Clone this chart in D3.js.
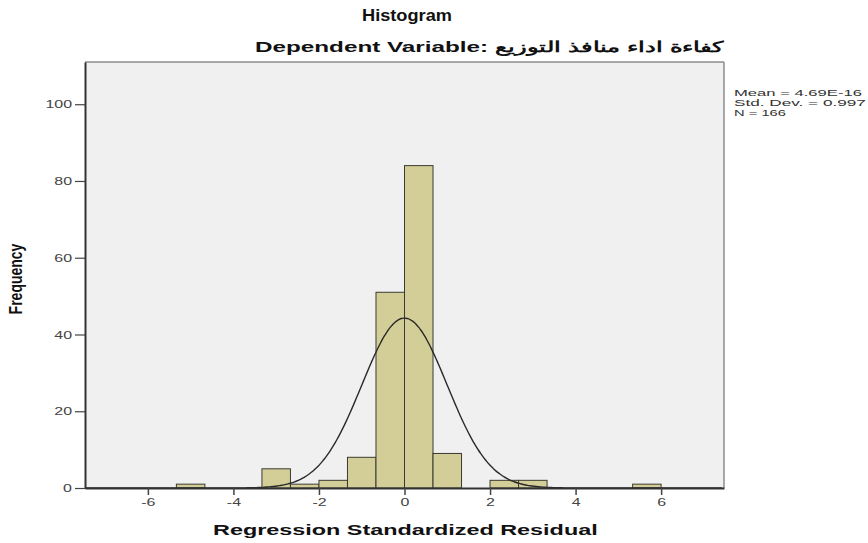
<!DOCTYPE html>
<html>
<head>
<meta charset="utf-8">
<script src="https://cdn.jsdelivr.net/npm/d3@7"></script>
<style>
  html, body { margin: 0; padding: 0; background: #ffffff; }
  svg { display: block; }
  text { font-family: "Liberation Sans", Arial, sans-serif; }
</style>
</head>
<body>
<svg id="chart" width="868" height="543"></svg>
<script>
// ---- Data ----
const binLower = [-16/3, -10/3, -8/3, -2, -4/3, -2/3, 0, 2/3, 2, 8/3, 16/3];
const binWidth = 2/3;
const counts   = [1, 5, 1, 2, 8, 51, 84, 9, 2, 2, 1];
const xTicks   = [-6, -4, -2, 0, 2, 4, 6];
const yTicks   = [0, 20, 40, 60, 80, 100];
const statMean = 4.69e-16;
const statSD   = 0.997;
const statN    = 166;
const legendLines = ["Mean = 4.69E-16", "Std. Dev. = 0.997", "N = 166"];
const titleText = "Histogram";
const subtitleText = "Dependent Variable: كفاءة اداء منافذ التوزيع";
const xLabel = "Regression Standardized Residual";
const yLabel = "Frequency";

// ---- Layout ----
const plot = { left: 85, right: 724, top: 62, bottom: 488 };
const SX = 1.45; // horizontal stretch of the reference's text

const svg = d3.select("#chart");
const x = d3.scaleLinear().domain([-7.47, 7.47]).range([plot.left, plot.right]);
const y = d3.scaleLinear().domain([0, 111]).range([plot.bottom, plot.top]);

function fitText(sel, x0, x1, yb) {
  const w = sel.node().getComputedTextLength();
  const sx = (x1 - x0) / w;
  sel.attr("x", 0).attr("y", 0)
     .attr("transform", `translate(${x0},${yb}) scale(${sx},1)`);
}
function stretch(sel, sx) {
  sel.each(function () {
    const t = d3.select(this);
    const tx = +t.attr("x") || 0, ty = +t.attr("y") || 0;
    t.attr("x", 0).attr("y", 0).attr("transform", `translate(${tx},${ty}) scale(${sx},1)`);
  });
}

// plot background
svg.append("rect")
  .attr("x", plot.left).attr("y", plot.top)
  .attr("width", plot.right - plot.left).attr("height", plot.bottom - plot.top)
  .attr("fill", "#f0f0f0");

// bars
svg.append("g").selectAll("rect")
  .data(binLower.map((b, i) => ({ lo: b, hi: b + binWidth, c: counts[i] })))
  .join("rect")
  .attr("x", d => x(d.lo))
  .attr("y", d => y(d.c))
  .attr("width", d => x(d.hi) - x(d.lo))
  .attr("height", d => y(0) - y(d.c))
  .attr("fill", "#d3ce97")
  .attr("stroke", "#3b3a30")
  .attr("stroke-width", 1);

// normal curve from the reported stats
const peakScale = statN * binWidth / (statSD * Math.sqrt(2 * Math.PI));
const curvePts = d3.range(-7.47, 7.4701, 0.05).map(v => [v, peakScale * Math.exp(-0.5 * Math.pow((v - statMean) / statSD, 2))]);
svg.append("path")
  .datum(curvePts)
  .attr("d", d3.line().x(d => x(d[0])).y(d => y(d[1])).curve(d3.curveBasis))
  .attr("fill", "none")
  .attr("stroke", "#2a2a2a")
  .attr("stroke-width", 1.4);

// frame: top & right grey
svg.append("line").attr("x1", plot.left).attr("x2", plot.right).attr("y1", plot.top).attr("y2", plot.top)
  .attr("stroke", "#8c8c8c").attr("stroke-width", 1.5);
svg.append("line").attr("x1", plot.right).attr("x2", plot.right).attr("y1", plot.top).attr("y2", plot.bottom)
  .attr("stroke", "#8c8c8c").attr("stroke-width", 1.5);

// axes
const fmt = d => String(d);
const yAxis = svg.append("g")
  .attr("transform", `translate(${plot.left},0)`)
  .call(d3.axisLeft(y).tickValues(yTicks).tickFormat(fmt).tickSize(10).tickSizeOuter(0).tickPadding(3));
yAxis.select(".domain").attr("stroke", "#333").attr("stroke-width", 2);
yAxis.selectAll(".tick line").attr("stroke", "#444").attr("stroke-width", 1.2);
yAxis.selectAll(".tick text").attr("font-size", 11).attr("fill", "#444")
  .attr("font-family", "Liberation Sans, Arial, sans-serif");
stretch(yAxis.selectAll(".tick text"), SX);

const xAxis = svg.append("g")
  .attr("transform", `translate(0,${plot.bottom})`)
  .call(d3.axisBottom(x).tickValues(xTicks).tickFormat(fmt).tickSize(7).tickSizeOuter(0).tickPadding(3));
xAxis.select(".domain").attr("stroke", "#333").attr("stroke-width", 2);
xAxis.selectAll(".tick line").attr("stroke", "#444").attr("stroke-width", 1.5);
xAxis.selectAll(".tick text").attr("font-size", 11).attr("fill", "#444")
  .attr("font-family", "Liberation Sans, Arial, sans-serif");
stretch(xAxis.selectAll(".tick text"), SX);

// titles
const t1 = svg.append("text").text(titleText)
  .attr("font-size", 16).attr("font-weight", "bold").attr("fill", "#111");
fitText(t1, 362, 452, 21);

const t2 = svg.append("text").text(subtitleText)
  .attr("font-size", 15).attr("font-weight", "bold").attr("fill", "#111");
fitText(t2, 255, 727, 52);

const xl = svg.append("text").text(xLabel)
  .attr("font-size", 15).attr("font-weight", "bold").attr("fill", "#111");
fitText(xl, 213, 598, 535);

svg.append("text").text(yLabel)
  .attr("font-size", 14).attr("font-weight", "bold").attr("fill", "#111")
  .attr("text-anchor", "middle")
  .attr("transform", `translate(22,279) rotate(-90) scale(1,1.35)`);

// legend text
const legendBase = [95.5, 105.5, 115.5];
const legendRight = [862, 866, 786];
legendLines.forEach((s, i) => {
  const t = svg.append("text").text(s).attr("font-size", 9).attr("fill", "#333");
  fitText(t, 734, legendRight[i], legendBase[i]);
});
</script>
</body>
</html>
